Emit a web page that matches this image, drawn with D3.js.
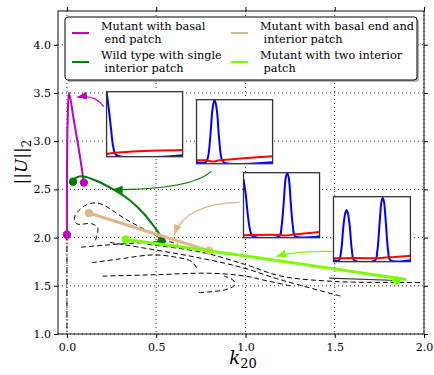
<!DOCTYPE html>
<html>
<head>
<meta charset="utf-8">
<script src="https://cdn.jsdelivr.net/npm/d3@7"></script>
<style>
  body { margin: 0; background: #fff; }
  svg { font-family: "DejaVu Serif", serif; }
</style>
</head>
<body>
<svg id="chart" width="434" height="375"></svg>
<script>
// axis ticks
var xTicks = [0, 0.5, 1.0, 1.5, 2.0]
var yTicks = [1.0, 1.5, 2.0, 2.5, 3.0, 3.5, 4.0]

// solution branches (k20, ||U||2)
var magentaCurve = [[0, 2.03], [0, 2.6], [0.004, 3.2], [0.012, 3.5], [0.04, 3.2], [0.068, 2.9], [0.095, 2.57]]
var magentaDots = [[0, 2.03], [0.095, 2.57]]
var greenCurve = [[0.034, 2.58], [0.05, 2.62], [0.08, 2.635], [0.15, 2.6], [0.25, 2.51], [0.35, 2.39], [0.43, 2.25], [0.49, 2.11], [0.52, 2.03], [0.53, 1.965]]
var greenDots = [[0.034, 2.58], [0.53, 1.965]]
var tanCurve = [[0.123, 2.255], [0.795, 1.864]]
var tanDots = [[0.123, 2.255], [0.795, 1.864]]
var limeCurve = [[0.33, 1.98], [1.0, 1.81], [1.9, 1.565]]
var limeDots = [[0.33, 1.98], [1.845, 1.555]]
var thinBranch = [[1.47, 1.58], [1.85, 1.555]]
var dashDotBranch = [[0, 2.03], [0, 1.0]]

// unstable (dashed) branches
var branchA = [[0.547, 1.957], [0.508, 2.009], [0.334, 2.185], [0.183, 2.352], [0.11, 2.341], [0.043, 2.217], [0.054, 2.144], [0.138, 2.144], [0.172, 2.103], [0.166, 2.009], [0.155, 1.947]]
var branchB = [[0.08, 1.9], [0.2, 1.92], [0.4, 1.945], [0.58, 1.955], [0.62, 1.93]]
var branchC = [[0.24, 1.95], [0.5, 1.87], [0.74, 1.79], [0.98, 1.69], [1.19, 1.566], [1.54, 1.39]]
var branchD = [[0.45, 1.93], [0.75, 1.85], [1.0, 1.72], [1.2, 1.6], [1.5, 1.545], [1.8, 1.535], [1.99, 1.533]]
var branchE = [[0.14, 1.74], [0.3, 1.78], [0.48, 1.82], [0.6, 1.8], [0.7, 1.75], [0.73, 1.67]]
var branchF = [[0.2, 1.6], [0.5, 1.615], [0.8, 1.63], [1.0, 1.6], [1.1, 1.56], [1.25, 1.5]]
var branchG = [[0.74, 1.43], [0.89, 1.46], [0.94, 1.51], [0.93, 1.56], [0.88, 1.6]]

// insets: [k0, k1, yTop, yBottom]
var insetBoxes = [[0.222, 0.648, 3.513, 2.839], [0.726, 1.152, 3.43, 2.766], [0.989, 1.415, 2.673, 1.999], [1.493, 1.924, 2.424, 1.75]]
var insetBlue = [
    [[0, 1.0], [0.03, 0.72], [0.06, 0.4], [0.09, 0.12], [0.13, 0], [1, 0]],
    [[0, 0], [0.12, 0], [0.15, 0.08], [0.18, 0.4], [0.21, 0.85], [0.237, 1], [0.265, 0.85], [0.295, 0.4], [0.325, 0.08], [0.355, 0], [1, 0]],
    [[0, 0.9], [0.03, 0.65], [0.06, 0.3], [0.09, 0.08], [0.12, 0], [0.47, 0], [0.5, 0.15], [0.53, 0.55], [0.555, 0.92], [0.575, 1], [0.595, 0.92], [0.62, 0.55], [0.65, 0.15], [0.68, 0], [1, 0]],
    [[0, 0], [0.07, 0], [0.1, 0.15], [0.13, 0.55], [0.155, 0.75], [0.17, 0.79], [0.185, 0.75], [0.21, 0.55], [0.24, 0.15], [0.27, 0], [0.54, 0], [0.57, 0.15], [0.6, 0.6], [0.625, 0.93], [0.64, 0.98], [0.655, 0.93], [0.68, 0.6], [0.71, 0.15], [0.74, 0], [1, 0]]
]
var insetRed = [
    [[0, 0.02], [0.2, 0.045], [0.5, 0.065], [1, 0.08]],
    [[0, 0.03], [0.12, 0.03], [0.22, 0.01], [0.3, 0.03], [0.5, 0.05], [0.75, 0.075], [1, 0.095]],
    [[0, 0.015], [0.45, 0.02], [0.55, 0.01], [0.7, 0.03], [1, 0.065]],
    [[0, 0.03], [0.3, 0.035], [0.55, 0.03], [0.65, 0.04], [0.8, 0.05], [1, 0.07]]
]

// annotation arrows: [from, control, to]
var arrows = [
    {color: "#bf00bf", pts: [[0.206, 3.357], [0.16, 3.49], [0.057, 3.456]]},
    {color: "#008000", pts: [[0.808, 2.687], [0.7, 2.5], [0.256, 2.497]]},
    {color: "#deb887", pts: [[0.967, 2.365], [0.66, 2.35], [0.603, 2.03]]},
    {color: "#7cfc00", pts: [[1.488, 1.857], [1.27, 1.86], [1.172, 1.805]]}
]

var legendLabels = [["Mutant with basal", "\u00a0end patch"], ["Wild type with single", "\u00a0interior patch"],
    ["Mutant with basal end and", "\u00a0interior patch"], ["Mutant with two interior", "\u00a0patch"]]
var legendColors = ["#bf00bf", "#008000", "#deb887", "#7cfc00"]

var svg = d3.select("#chart")
var pL = 58, pR = 424, pT = 11, pB = 334

var x = d3.scaleLinear().domain([-0.05, 2.0]).range([pL, pR])
var y = d3.scaleLinear().domain([1.0, 4.35]).range([pB, pT])

var line = d3.line().x(d => x(d[0])).y(d => y(d[1]))
var smooth = d3.line().x(d => x(d[0])).y(d => y(d[1])).curve(d3.curveCatmullRom)

// grid
var grid = svg.append("g")
grid.selectAll(".gx").data(xTicks).enter().append("line")
    .attr("x1", d => x(d)).attr("x2", d => x(d)).attr("y1", pT).attr("y2", pB)
    .attr("stroke", "#333").attr("stroke-width", 1).attr("stroke-dasharray", "1,3")
grid.selectAll(".gy").data(yTicks).enter().append("line")
    .attr("x1", pL).attr("x2", pR).attr("y1", d => y(d)).attr("y2", d => y(d))
    .attr("stroke", "#333").attr("stroke-width", 1).attr("stroke-dasharray", "1,3")

var defs = svg.append("defs")
defs.append("clipPath").attr("id", "plot").append("rect")
    .attr("x", pL).attr("y", pT).attr("width", pR - pL).attr("height", pB - pT)

arrows.forEach(function (a, i) {
    defs.append("marker")
        .attr("id", "head" + i)
        .attr("markerUnits", "userSpaceOnUse")
        .attr("viewBox", "0 0 10 8")
        .attr("refX", 10).attr("refY", 4)
        .attr("markerWidth", 10).attr("markerHeight", 8)
        .attr("orient", "auto")
        .append("path").attr("d", "M0,0 L10,4 L0,8 Z").attr("fill", a.color)
})

var g = svg.append("g").attr("clip-path", "url(#plot)")

// dashed branches
;[branchA, branchB, branchC, branchD, branchE, branchF, branchG].forEach(function (b) {
    g.append("path").datum(b).attr("d", smooth)
        .attr("fill", "none").attr("stroke", "#000").attr("stroke-width", 1)
        .attr("stroke-dasharray", "5,3")
})

g.append("path").datum(dashDotBranch).attr("d", line)
    .attr("fill", "none").attr("stroke", "#000").attr("stroke-width", 1)
    .attr("stroke-dasharray", "6,2,1,2")
g.append("path").datum(thinBranch).attr("d", line)
    .attr("fill", "none").attr("stroke", "#333").attr("stroke-width", 1.2)

function branch(data, dots, color, w) {
    g.append("path").datum(data).attr("d", smooth)
        .attr("fill", "none").attr("stroke", color).attr("stroke-width", w)
    g.selectAll(null).data(dots).enter().append("circle")
        .attr("cx", d => x(d[0])).attr("cy", d => y(d[1])).attr("r", 4.2)
        .attr("fill", color)
}
branch(magentaCurve, magentaDots, "#bf00bf", 2)
branch(greenCurve, greenDots, "#007a00", 2)
branch(tanCurve, tanDots, "#deb887", 3)
branch(limeCurve, limeDots, "#7cfc00", 3)

// arrows
arrows.forEach(function (a, i) {
    var p = a.pts.map(d => [x(d[0]), y(d[1])])
    g.append("path")
        .attr("d", "M" + p[0] + " Q" + p[1] + " " + p[2])
        .attr("fill", "none").attr("stroke", a.color).attr("stroke-width", 1.2)
        .attr("marker-end", "url(#head" + i + ")")
})

// insets
insetBoxes.forEach(function (b, i) {
    var ix = d3.scaleLinear().domain([0, 1]).range([x(b[0]), x(b[1])])
    var iy = d3.scaleLinear().domain([0, 1]).range([y(b[3]) - 1.5, y(b[2])])
    var il = d3.line().x(d => ix(d[0])).y(d => iy(d[1])).curve(d3.curveCatmullRom)
    var ig = svg.append("g")
    ig.append("clipPath").attr("id", "inset" + i).append("rect")
        .attr("x", x(b[0])).attr("y", y(b[2])).attr("width", x(b[1]) - x(b[0])).attr("height", y(b[3]) - y(b[2]))
    ig.append("rect")
        .attr("x", x(b[0])).attr("y", y(b[2])).attr("width", x(b[1]) - x(b[0])).attr("height", y(b[3]) - y(b[2]))
        .attr("fill", "#fff")
    var inner = ig.append("g").attr("clip-path", "url(#inset" + i + ")")
    inner.append("path").datum(insetBlue[i]).attr("d", il)
        .attr("fill", "none").attr("stroke", "#0000ff").attr("stroke-width", 2)
    inner.append("path").datum(insetRed[i]).attr("d", il)
        .attr("fill", "none").attr("stroke", "#ff0000").attr("stroke-width", 2)
    ig.append("rect")
        .attr("x", x(b[0])).attr("y", y(b[2])).attr("width", x(b[1]) - x(b[0])).attr("height", y(b[3]) - y(b[2]))
        .attr("fill", "none").attr("stroke", "#333").attr("stroke-width", 1.3)
})

// frame and ticks
svg.append("rect").attr("x", pL).attr("y", pT).attr("width", pR - pL).attr("height", pB - pT)
    .attr("fill", "none").attr("stroke", "#111").attr("stroke-width", 1)

var ax = svg.append("g").style("font-size", "11px")
ax.append("g").attr("transform", "translate(0," + pB + ")")
    .call(d3.axisBottom(x).tickValues(xTicks).tickFormat(d3.format(".1f")).tickSize(4).tickPadding(5))
ax.append("g").attr("transform", "translate(0," + pT + ")")
    .call(d3.axisTop(x).tickValues(xTicks).tickFormat("").tickSize(4))
ax.append("g").attr("transform", "translate(" + pL + ",0)")
    .call(d3.axisLeft(y).tickValues(yTicks).tickFormat(d3.format(".1f")).tickSize(4).tickPadding(3))
ax.append("g").attr("transform", "translate(" + pR + ",0)")
    .call(d3.axisRight(y).tickValues(yTicks).tickFormat("").tickSize(4))
ax.selectAll(".domain").remove()
ax.selectAll("text").attr("fill", "#000").style("font-family", "DejaVu Serif").style("font-size", "11px")

// axis labels
var xl = svg.append("text").attr("x", 243).attr("y", 364).attr("text-anchor", "middle")
    .style("font-size", "18px")
xl.append("tspan").style("font-style", "italic").text("k")
xl.append("tspan").attr("dy", 4).style("font-size", "13px").text("20")

var yl = svg.append("text").attr("transform", "translate(27,162) rotate(-90)").attr("text-anchor", "middle")
    .style("font-size", "17px")
yl.append("tspan").text("||")
yl.append("tspan").style("font-style", "italic").text("U")
yl.append("tspan").text("||")
yl.append("tspan").attr("dy", 4).style("font-size", "12px").text("2")

// legend
var lg = svg.append("g")
lg.append("rect").attr("x", 67).attr("y", 19).attr("width", 352).attr("height", 63).attr("rx", 3)
    .attr("fill", "#888").attr("opacity", 0.6)
lg.append("rect").attr("x", 65).attr("y", 17).attr("width", 352).attr("height", 63).attr("rx", 3)
    .attr("fill", "#fff").attr("stroke", "#000").attr("stroke-width", 1)
var colX = [72, 231], rowY = [22, 51]
legendLabels.forEach(function (lab, i) {
    var cx = colX[Math.floor(i / 2)], ry = rowY[i % 2]
    lg.append("line").attr("x1", cx).attr("x2", cx + 17).attr("y1", ry + 11).attr("y2", ry + 11)
        .attr("stroke", legendColors[i]).attr("stroke-width", 2)
    var t = lg.append("text").attr("x", cx + 29).attr("y", ry + 8).style("font-size", "11.3px")
    t.append("tspan").attr("x", cx + 29).text(lab[0])
    t.append("tspan").attr("x", cx + 29).attr("dy", 13).text(lab[1])
})
</script>
</body>
</html>
